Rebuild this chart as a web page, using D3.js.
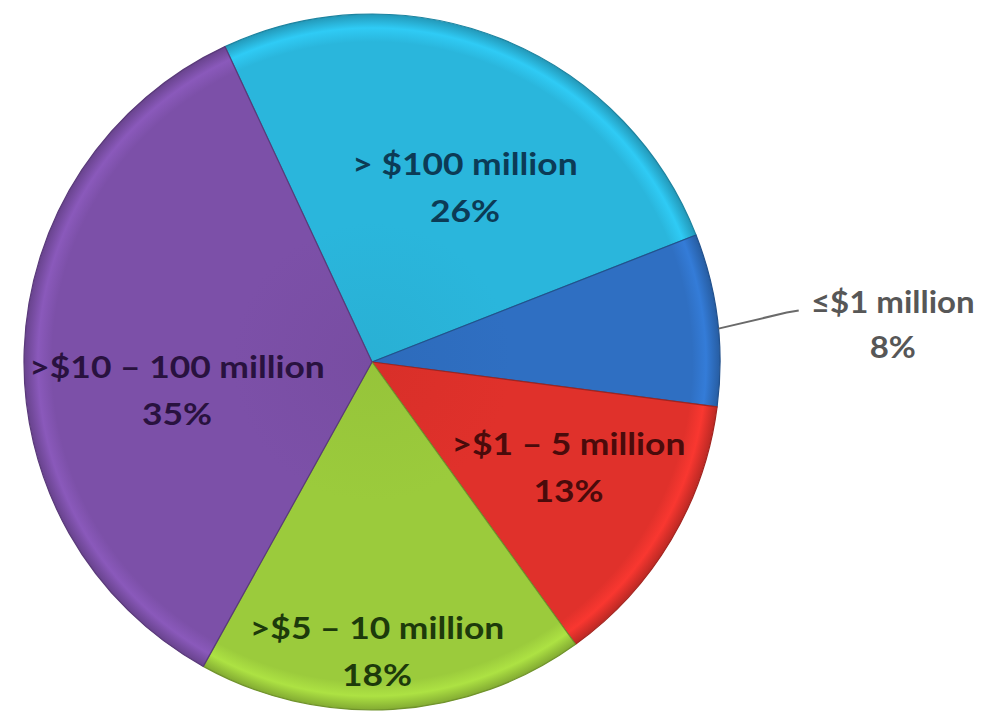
<!DOCTYPE html>
<html>
<head>
<meta charset="utf-8">
<script src="https://cdn.jsdelivr.net/npm/d3@7/dist/d3.min.js"></script>
<style>
  html, body { margin: 0; padding: 0; background: #ffffff; }
  svg { display: block; }
  text { font-family: Lato, "Open Sans", sans-serif; font-weight: 700; }
</style>
</head>
<body>
<svg id="chart" width="984" height="717"></svg>
<script>
// Share of projects by funding size
const categories = ["> $100 million", "\u2264$1 million", ">$1 \u2013 5 million", ">$5 \u2013 10 million", ">$10 \u2013 100 million"];
const shares = [26, 8, 13, 18, 35];
const sliceColors = ["#2ab6dc", "#2f6fc2", "#e0312b", "#9bcb3c", "#7c50a8"];
const labelColors = ["#0c3b56", "#575757", "#4a0b0b", "#1d3a0b", "#29123f"];

const svg = d3.select("#chart");
const cx = 372, cy = 362, radius = 348;

// Radial shading per slice: flat body, light bevel and dark rim near the edge
const defs = svg.append("defs");
sliceColors.forEach((c, i) => {
  const grad = defs.append("radialGradient")
    .attr("id", "grad" + i)
    .attr("gradientUnits", "userSpaceOnUse")
    .attr("cx", 0).attr("cy", 0).attr("r", radius);
  grad.append("stop").attr("offset", "0%").attr("stop-color", d3.color(c).darker(0.1));
  grad.append("stop").attr("offset", "40%").attr("stop-color", c);
  grad.append("stop").attr("offset", "92%").attr("stop-color", c);
  grad.append("stop").attr("offset", "96%").attr("stop-color", d3.color(c).brighter(0.3));
  grad.append("stop").attr("offset", "100%").attr("stop-color", d3.color(c).darker(0.5));
});

const pie = d3.pie().sort(null).value(d => d)
  .startAngle(-25 * Math.PI / 180)
  .endAngle(335 * Math.PI / 180);
const arcs = pie(shares);
const arc = d3.arc().innerRadius(0).outerRadius(radius);

const g = svg.append("g").attr("transform", `translate(${cx},${cy})`);

g.selectAll("path.slice")
  .data(arcs)
  .join("path")
  .attr("class", "slice")
  .attr("d", arc)
  .attr("fill", (d, i) => `url(#grad${i})`)
  .attr("stroke", (d, i) => d3.color(sliceColors[i]).darker(0.9))
  .attr("stroke-width", 1.2)
  .attr("stroke-linejoin", "round");

// Label placement: [radius fraction, angle shift in degrees] from each slice's mid-angle
const labelPlacement = [[0.567, 6.3], [1.5, 3.0], [0.641, -2.5], [0.833, 2.4], [0.566, -10.2]];
const fontSize = 30;
const lineGap = 47;

arcs.forEach((d, i) => {
  const mid = (d.startAngle + d.endAngle) / 2;
  const [rf, shift] = labelPlacement[i];
  const a = mid + shift * Math.PI / 180;
  const x = Math.sin(a) * radius * rf;
  const y = -Math.cos(a) * radius * rf;
  let gap = lineGap, stretch = 1.18;
  if (i === 1) {
    // Outside label joined to the slice edge by a leader line
    const ex = Math.sin(mid + 1.5 * Math.PI / 180) * radius;
    const ey = -Math.cos(mid + 1.5 * Math.PI / 180) * radius;
    const lx = x - 94, ly = y - 15;
    g.append("polyline")
      .attr("points", `${ex},${ey} ${lx - 12},${ly + 2} ${lx},${ly}`)
      .attr("fill", "none")
      .attr("stroke", "#6a6a6a")
      .attr("stroke-width", 2);
    gap = 45;
    stretch = 1.1;
  }
  const t = g.append("text")
    .attr("transform", `translate(${x},${y}) scale(${stretch},1)`)
    .attr("text-anchor", "middle")
    .attr("fill", labelColors[i])
    .attr("font-size", fontSize);
  t.append("tspan").attr("x", 0).attr("y", -12.5).text(categories[i]);
  t.append("tspan").attr("x", 0).attr("y", -12.5 + gap).text(d.data + "%");
});
</script>
</body>
</html>
